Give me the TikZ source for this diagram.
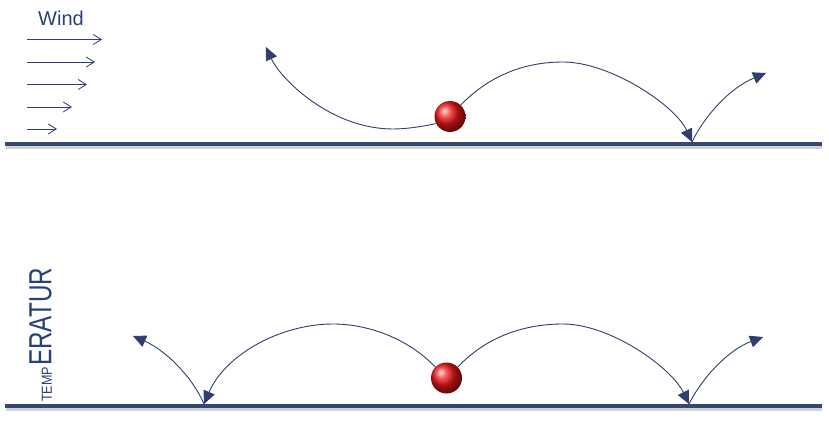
\documentclass[tikz,border=0pt]{standalone}
\usepackage{fontspec}
\setmainfont{Liberation Sans}
\usepackage{graphicx}
\usetikzlibrary{arrows.meta}
\definecolor{navy}{HTML}{2E3F6E}
\definecolor{groundc}{HTML}{374870}
\definecolor{textc}{HTML}{2A4177}
\definecolor{ballred}{HTML}{F01818}
\begin{document}
\begin{tikzpicture}[x=1pt,y=-1pt,
  curve/.style={draw=navy, line width=0.9pt, -{Triangle[length=13pt,width=12pt]}},
  windarrow/.style={draw=navy, line width=0.8pt, -{Straight Barb[length=8pt,width=10pt]}},
  ground/.style={draw=groundc, line width=3.8pt},
  groundshadow/.style={draw=black!18, line width=2.5pt},
  ball/.style={circle, minimum size=31pt, inner sep=0pt, shading=ball, ball color=ballred},
  lbl/.style={text=textc, inner sep=0pt}]
\useasboundingbox (0,0) rectangle (829,422);

% ground lines
\draw[groundshadow] (6,147.5) -- (822,147.5);
\draw[ground] (5,144) -- (822,144);
\draw[groundshadow] (6,409.5) -- (822,409.5);
\draw[ground] (5,406) -- (822,406);

% wind
\node[lbl, font=\fontsize{20}{20}\selectfont, anchor=base west] (wind) at (38,26) {Wind};
\foreach \i/\y/\xe in {1/39.5/102, 2/62/95, 3/84.5/87, 4/107/72, 5/129/57} {
  \coordinate (w\i s) at (27,\y);
  \coordinate (w\i e) at (\xe,\y);
  \draw[windarrow] (w\i s) -- (w\i e);
}

% temperature label
\node[lbl, rotate=90, anchor=south west] (erat) at (52,366) {\resizebox{98pt}{22pt}{ERATUR}};
\node[lbl, rotate=90, anchor=south west] (temp) at (52,402) {\resizebox{35pt}{10pt}{TEMP}};

% balls
\node[ball] (ballA) at (450,116.5) {};
\node[ball] (ballB) at (446.5,378) {};

% bounce points and arrow ends
\coordinate (tipA) at (266,47);
\coordinate (bounceA) at (692,142);
\coordinate (tipB) at (766,73);
\coordinate (bounceL) at (204,404);
\coordinate (tipL) at (133,336);
\coordinate (bounceR) at (689,404);
\coordinate (tipR) at (763,337);

% top trajectories
\draw[curve] (ballA.207) .. controls (420,127) and (405,129) .. (393,129)
  .. controls (330,129) and (280,78) .. (tipA);
\draw[curve] (ballA.47) .. controls (490,75) and (525,62) .. (563,62)
  .. controls (610,62) and (675,105) .. (bounceA);
\draw[curve] (bounceA) .. controls (705,115) and (730,88) .. (tipB);

% bottom trajectories
\draw[curve] (ballB.136) .. controls (410,340) and (370,324) .. (333,324)
  .. controls (280,324) and (225,355) .. (bounceL);
\draw[curve] (bounceL) .. controls (192,376) and (165,350) .. (tipL);
\draw[curve] (ballB.44) .. controls (485,338) and (522,324) .. (563,324)
  .. controls (610,324) and (671,367) .. (bounceR);
\draw[curve] (bounceR) .. controls (702,378) and (728,350) .. (tipR);
\end{tikzpicture}
\end{document}
